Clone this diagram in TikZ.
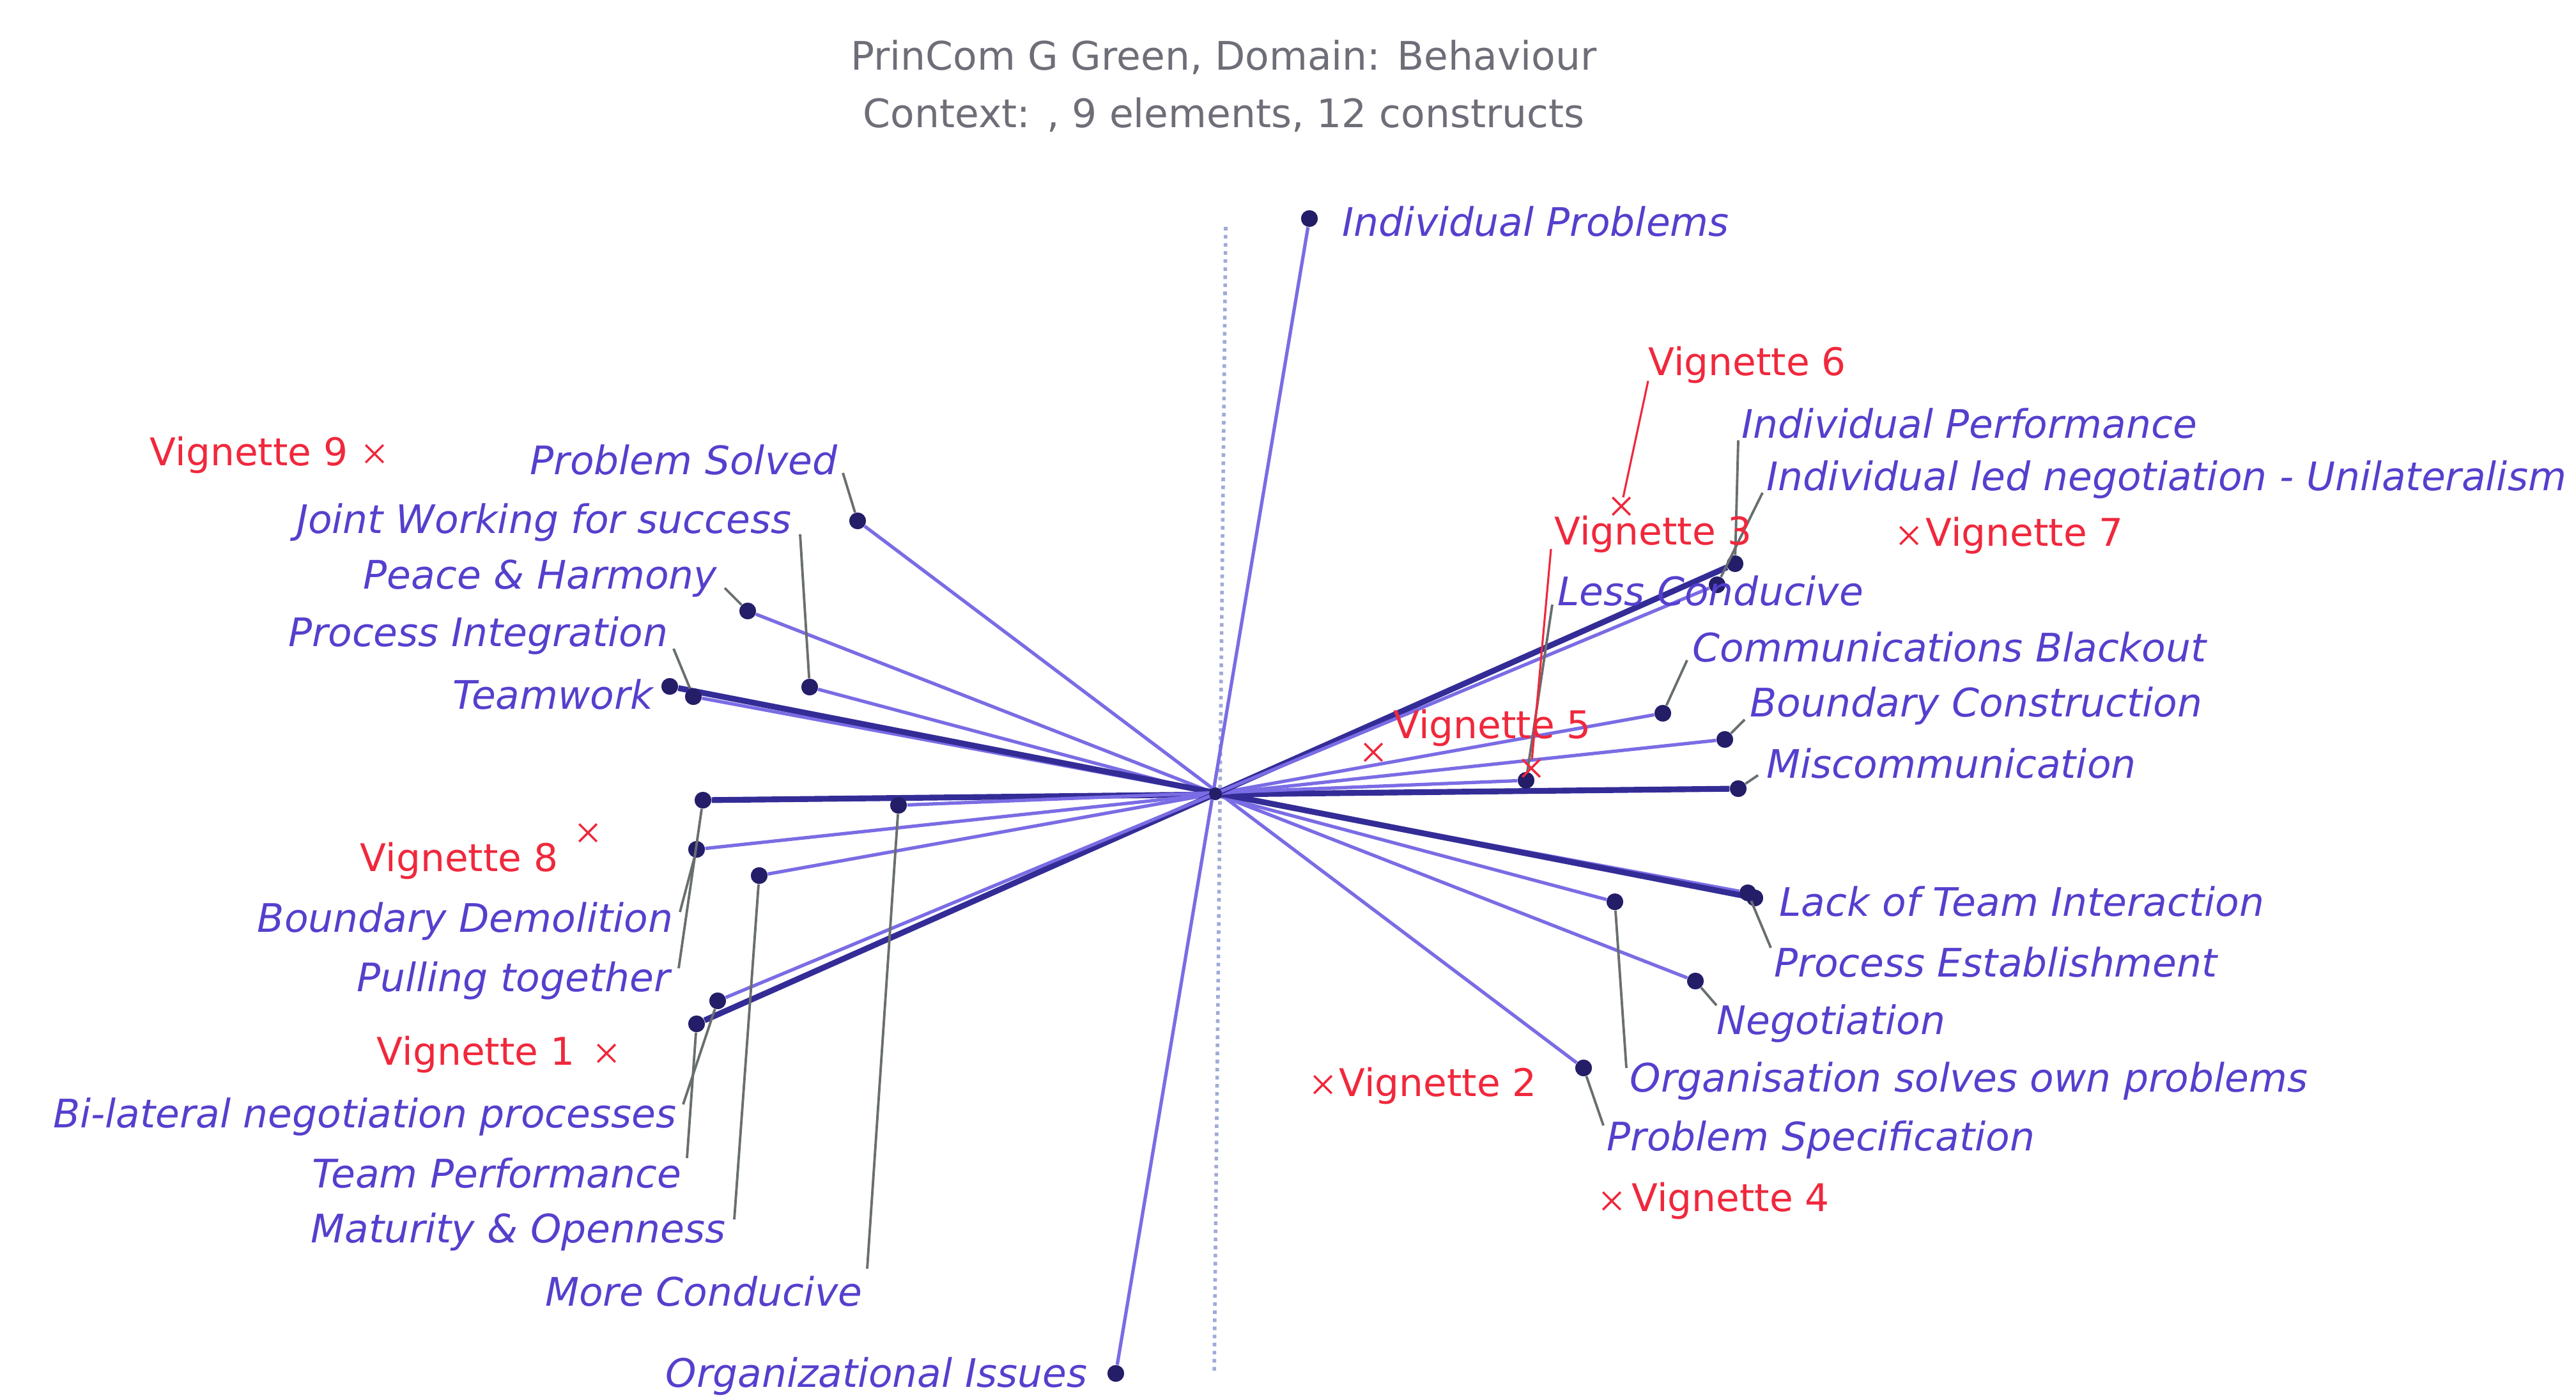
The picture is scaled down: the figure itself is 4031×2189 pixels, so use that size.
\documentclass[tikz,border=0pt]{standalone}
\usepackage{fontspec}
\setmainfont{DejaVu Sans}
\usetikzlibrary{shapes.misc}
\definecolor{poleline}{RGB}{122,108,228}
\definecolor{poledark}{RGB}{52,44,150}
\definecolor{dotcol}{RGB}{36,30,105}
\definecolor{lbl}{RGB}{84,64,205}
\definecolor{vred}{RGB}{240,40,60}
\definecolor{lead}{RGB}{105,110,110}
\definecolor{axisdot}{RGB}{160,170,215}
\definecolor{ttl}{RGB}{110,110,120}
\begin{document}
\begin{tikzpicture}[x=0.1mm,y=-0.1mm,
  pole/.style={circle,fill=dotcol,inner sep=0pt,minimum size=2.6mm},
  conline/.style={draw=poleline,line width=1.5pt},
  conheavy/.style={draw=poledark,line width=2.6pt},
  leader/.style={draw=lead,line width=1.1pt},
  vlead/.style={draw=vred,line width=0.9pt},
  txt/.style={inner sep=0pt,font=\fontsize{17}{20}\selectfont},
  clabL/.style={txt,anchor=east,text=lbl,font=\fontsize{17.5}{20}\selectfont\itshape},
  clabR/.style={txt,anchor=west,text=lbl,font=\fontsize{17.5}{20}\selectfont\itshape},
  vlabL/.style={txt,anchor=east,text=vred},
  vlabR/.style={txt,anchor=west,text=vred},
  vmark/.style={cross out,draw=vred,line width=1pt,minimum size=2.4mm,inner sep=0pt},
  titletext/.style={txt,text=ttl,font=\fontsize{17.5}{20}\selectfont}
]
\useasboundingbox (0,0) rectangle (4031,2189);

% title
\node[titletext] (title1) at (1915,90) {PrinCom G Green, Domain: Behaviour};
\node[titletext] (title2) at (1915,180) {Context: , 9 elements, 12 constructs};

% vertical reference axis
\coordinate (axTop) at (1918,355);
\coordinate (axBot) at (1900,2150);
\draw[axisdot,line width=1.6pt,dotted] (axTop) -- (axBot);

% construct poles
\node[pole] (pIP)      at (2049,342) {};
\node[pole] (pOI)      at (1746,2149) {};
\node[pole] (pPSolved) at (1342,815) {};
\node[pole] (pPSpec)   at (2478,1671) {};
\node[pole] (pPeace)   at (1170,956) {};
\node[pole] (pNeg)     at (2653,1535) {};
\node[pole] (pJoint)   at (1267,1075) {};
\node[pole] (pOrg)     at (2527,1411) {};
\node[pole] (pPInt)    at (1085,1090) {};
\node[pole] (pPEst)    at (2735,1397) {};
\node[pole] (pTeam)    at (1048,1074) {};
\node[pole] (pLack)    at (2746,1405) {};
\node[pole] (pPull)    at (1100,1252) {};
\node[pole] (pMisc)    at (2720,1234) {};
\node[pole] (pMore)    at (1406,1260) {};
\node[pole] (pLess)    at (2388,1221) {};
\node[pole] (pBDem)    at (1090,1329) {};
\node[pole] (pBCon)    at (2699,1157) {};
\node[pole] (pMat)     at (1188,1370) {};
\node[pole] (pComm)    at (2602,1116) {};
\node[pole] (pTPerf)   at (1090,1602) {};
\node[pole] (pIPerf)   at (2715,882) {};
\node[pole] (pBil)     at (1123,1566) {};
\node[pole] (pIled)    at (2687,915) {};

% construct axes, pole to pole
\draw[conline]  (pIP) -- (pOI);
\draw[conline]  (pPSolved) -- (pPSpec);
\draw[conline]  (pPeace) -- (pNeg);
\draw[conline]  (pJoint) -- (pOrg);
\draw[conline]  (pPInt) -- (pPEst);
\draw[conheavy] (pTeam) -- (pLack);
\draw[conheavy] (pPull) -- (pMisc);
\draw[conline]  (pMore) -- (pLess);
\draw[conline]  (pBDem) -- (pBCon);
\draw[conline]  (pMat) -- (pComm);
\draw[conheavy] (pTPerf) -- (pIPerf);
\draw[conline]  (pBil) -- (pIled);
% dense hub where the axes cross
\fill[dotcol] (1902,1242) circle (1mm);
% redraw dots above the lines
\foreach \p in {pIP,pOI,pPSolved,pPSpec,pPeace,pNeg,pJoint,pOrg,pPInt,pPEst,pTeam,pLack,
  pPull,pMisc,pMore,pLess,pBDem,pBCon,pMat,pComm,pTPerf,pIPerf,pBil,pIled}
  \fill[dotcol] (\p) circle (1.3mm);

% construct labels, left side
\node[clabL] (lPSolved) at (1311,720)  {Problem Solved};
\node[clabL] (lJoint)   at (1239,818)  {Joint Working for success};
\node[clabL] (lPeace)   at (1123,905)  {Peace \& Harmony};
\node[clabL] (lPInt)    at (1046,995)  {Process Integration};
\node[clabL] (lTeam)    at (1023,1087) {Teamwork};
\node[clabL] (lBDem)    at (1054,1442) {Boundary Demolition};
\node[clabL] (lPull)    at (1049,1535) {Pulling together};
\node[clabL] (lBil)     at (1059,1748) {Bi-lateral negotiation processes};
\node[clabL] (lTPerf)   at (1067,1836) {Team Performance};
\node[clabL] (lMat)     at (1136,1928) {Maturity \& Openness};
\node[clabL] (lMore)    at (1350,2021) {More Conducive};
\node[clabL] (lOI)      at (1702,2154) {Organizational Issues};
% construct labels, right side
\node[clabR] (lIP)      at (2100,347)  {Individual Problems};
\node[clabR] (lIPerf)   at (2725,663)  {Individual Performance};
\node[clabR] (lIled)    at (2764,751)  {Individual led negotiation - Unilateralism};
\node[clabR] (lLess)    at (2437,925)  {Less Conducive};
\node[clabR] (lComm)    at (2648,1013) {Communications Blackout};
\node[clabR] (lBCon)    at (2738,1105) {Boundary Construction};
\node[clabR] (lMisc)    at (2764,1195) {Miscommunication};
\node[clabR] (lLack)    at (2784,1411) {Lack of Team Interaction};
\node[clabR] (lPEst)    at (2776,1506) {Process Establishment};
\node[clabR] (lNeg)     at (2686,1602) {Negotiation};
\node[clabR] (lOrg)     at (2550,1692) {Organisation solves own problems};
\node[clabR] (lPSpec)   at (2514,1784) {Problem Specification};

% leader ends next to the labels
\coordinate (ePSolved) at (1319,740);
\coordinate (eJoint)   at (1252,836);
\coordinate (ePeace)   at (1134,920);
\coordinate (ePInt)    at (1054,1015);
\coordinate (eBDem)    at (1064,1427);
\coordinate (ePull)    at (1062,1515);
\coordinate (eBil)     at (1069,1728);
\coordinate (eTPerf)   at (1075,1812);
\coordinate (eMat)     at (1149,1908);
\coordinate (eMore)    at (1357,1985);
\coordinate (eIPerf)   at (2720,689);
\coordinate (eIled)    at (2758,771);
\coordinate (eLess)    at (2429,946);
\coordinate (eComm)    at (2640,1033);
\coordinate (eBCon)    at (2730,1126);
\coordinate (eMisc)    at (2751,1213);
\coordinate (ePEst)    at (2771,1483);
\coordinate (eNeg)     at (2686,1573);
\coordinate (eOrg)     at (2545,1671);
\coordinate (ePSpec)   at (2509,1761);

\draw[leader] (ePSolved) -- (pPSolved);
\draw[leader] (eJoint) -- (pJoint);
\draw[leader] (ePeace) -- (pPeace);
\draw[leader] (ePInt) -- (pPInt);
\draw[leader] (eBDem) -- (pBDem);
\draw[leader] (ePull) -- (pPull);
\draw[leader] (eBil) -- (pBil);
\draw[leader] (eTPerf) -- (pTPerf);
\draw[leader] (eMat) -- (pMat);
\draw[leader] (eMore) -- (pMore);
\draw[leader] (eIPerf) -- (pIPerf);
\draw[leader] (eIled) -- (pIled);
\draw[leader] (eLess) -- (pLess);
\draw[leader] (eComm) -- (pComm);
\draw[leader] (eBCon) -- (pBCon);
\draw[leader] (eMisc) -- (pMisc);
\draw[leader] (ePEst) -- (pPEst);
\draw[leader] (eNeg) -- (pNeg);
\draw[leader] (eOrg) -- (pOrg);
\draw[leader] (ePSpec) -- (pPSpec);

% elements (vignettes)
\node[vmark] (x9) at (586,710) {};
\node[vlabL] (v9) at (545,712) {Vignette 9};
\node[vmark] (x6) at (2537,792) {};
\node[vlabR] (v6) at (2579,571) {Vignette 6};
\coordinate (e6) at (2579,596);
\draw[vlead] (e6) -- (x6);
\node[vmark] (x3) at (2396,1202) {};
\node[vlabR] (v3) at (2432,836) {Vignette 3};
\coordinate (e3) at (2427,859);
\draw[vlead] (e3) -- (x3);
\node[vmark] (x7) at (2987,838) {};
\node[vlabR] (v7) at (3013,838) {Vignette 7};
\node[vmark] (x5) at (2149,1177) {};
\node[vlabR] (v5) at (2180,1139) {Vignette 5};
\node[vmark] (x8) at (920,1303) {};
\node[vlabL] (v8) at (874,1347) {Vignette 8};
\node[vmark] (x1) at (949,1648) {};
\node[vlabL] (v1) at (900,1650) {Vignette 1};
\node[vmark] (x2) at (2070,1697) {};
\node[vlabR] (v2) at (2095,1699) {Vignette 2};
\node[vmark] (x4) at (2522,1879) {};
\node[vlabR] (v4) at (2553,1879) {Vignette 4};
\end{tikzpicture}
\end{document}
